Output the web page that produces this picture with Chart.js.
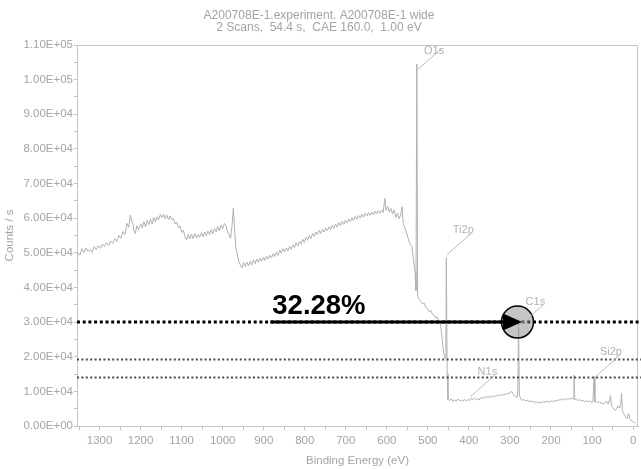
<!DOCTYPE html>
<html>
<head>
<meta charset="utf-8">
<script src="https://cdn.jsdelivr.net/npm/chart.js@4.4.1/dist/chart.umd.min.js"></script>
<style>
  html, body { margin: 0; padding: 0; background: #fff; }
  canvas { display: block; }
</style>
</head>
<body>
<canvas id="c" width="641" height="469"></canvas>
<script>
// Survey spectrum: binding energy (eV, high to low) and count rate (counts / s)
const energy = [
  1354,1348,1343,1338,1333,1328,1323,1318,1313,1308,1303,1298,1293,1288,1283,1278,1273,1268,1263,1258,
  1253,1248,1243,1238,1233,1229,1225,1222,1219,1216,1213,1209,1205,1200,1196,1192,1188,1184,1180,1176,
  1172,1168,1164,1160,1156,1152,1148,1144,1140,1136,1132,1128,1124,1120,1116,1112,1108,1104,1100,1096,
  1092,1088,1084,1080,1076,1072,1068,1064,1060,1056,1052,1048,1044,1040,1036,1032,1028,1024,1020,1016,
  1012,1008,1004,1000,996,992,988,984,981,977,974,971,968,965,961,957,953,949,945,941,
  937,933,929,925,921,917,913,909,905,901,897,893,889,885,881,877,873,869,865,861,
  857,853,849,845,841,837,833,829,825,821,817,813,809,805,801,797,793,789,785,781,
  777,773,769,765,761,757,753,749,745,741,737,733,729,725,721,717,713,709,705,701,
  697,693,689,685,681,677,673,669,665,661,657,653,649,645,641,637,633,629,625,621,
  617,613,609,605,602,598,594,590,586,582,578,574,570,566,563,560,556,552,547,543,
  539,535,531,529,527,525,521,517,513,509,505,501,497,493,489,485,481,477,473,470,
  467,464,461,458,456,455,453,451,447,443,439,435,431,427,423,419,415,411,407,403,
  399,395,391,387,383,379,375,371,367,363,359,355,351,347,343,339,335,331,327,323,
  319,315,311,307,303,299,295,291,287,283,281,279,277,274,270,266,262,258,254,250,
  246,242,238,234,230,226,222,218,214,210,206,202,198,194,190,186,182,178,174,170,
  166,162,158,154,150,146,144,142,138,134,130,126,122,118,114,110,106,102,98,95,
  93,89,85,81,77,73,69,65,61,57,55,53,50,47,44,40,37,33,30,28,
  26,23,20,17,14,11,8,5,2,0,-3,-6
];
const counts = [
  50200,49300,51200,50100,51400,50400,51000,50200,51800,50900,52100,51300,52500,51800,52900,52100,53400,52700,54100,53300,
  55000,54200,56100,55300,58500,57400,60900,59200,58500,56400,55600,57800,56600,58400,57200,59000,57500,59400,58100,59800,
  58300,60200,58900,60400,59500,61000,60200,61200,59800,60900,59500,60700,59600,59900,58300,58900,57200,57800,55900,56500,
  54700,53700,55300,54000,55400,54100,55600,54300,55200,54500,55800,54600,56000,54900,56300,55200,56700,55500,57000,56000,
  57600,56300,58000,56900,58500,57800,56000,55200,54200,58000,62900,57000,51500,49900,47500,46500,45600,47200,46000,47300,
  46200,47600,46500,48000,46900,48200,47300,48500,47500,48700,47800,49000,48200,49300,48500,49800,48900,50200,49300,50800,
  49900,51200,50300,51400,50600,51900,51000,52300,51500,52900,52000,53300,52500,53900,53000,54500,53600,55000,54100,55600,
  54700,56000,55200,56500,55600,56800,56000,57200,56300,57500,56700,57900,57000,58300,57400,58700,57800,59100,58200,59400,
  58600,59800,59000,60200,59300,60500,59700,60800,60000,61100,60300,61400,60600,61600,60800,61800,61000,62000,61200,62200,
  61400,62400,61600,65700,62200,63400,61800,62800,61200,62400,60200,61500,59800,61000,63300,58500,57200,55800,53700,52500,
  51800,48000,44100,39000,104500,37500,36600,36000,35200,35500,34200,33900,33000,33400,32300,32100,31200,31400,30500,30000,
  27000,23500,20800,19500,25000,48600,15000,7600,7400,7900,7000,7600,7200,7800,7300,7500,7100,7700,7200,7600,
  7400,8000,7600,8100,7700,7900,7500,8200,7900,8400,8000,8600,8200,8700,8300,8800,8500,9000,8600,9100,
  8800,9300,9000,9500,9200,9800,9900,9000,8500,8200,9500,29500,9000,7800,7400,7700,7200,7500,7000,7300,
  6900,7100,6700,7000,6600,6900,6700,7100,6800,7200,6900,7100,7300,7000,7400,7200,7600,7400,7800,7500,
  7900,7600,8000,7700,8100,7800,14700,7600,7800,7300,7600,7200,7400,7000,7300,6900,7200,6800,7000,14200,
  7000,6800,7000,6500,6800,6300,6600,7200,6400,7600,8800,6000,5400,4900,4500,5000,5800,5200,6400,9400,
  4500,3600,3000,2400,2200,3600,2200,1600,1400,1200,1000,900
];

// Peak identifications (leader anchor in eV and counts / s)
const peakNames  = ['O1s', 'Ti2p', 'N1s', 'C1s', 'Si2p'];
const peakEnergy = [526, 454, 397, 280, 93];
const peakCounts = [102800, 49400, 8400, 28600, 14100];

// Horizontal reference levels (counts / s)
const levelCounts = [30000, 19200, 14000];

// Arrow running along the top level into the C1s marker
const arrowFromEnergy = 884;
const arrowToEnergy = 270.6;
const markerEnergy = 281.7;
const markerCounts = 30000;
const percentLabel = '32.28%';

// Axis ticks
const xMinorTicks = [0,50,100,150,200,250,300,350,400,450,500,550,600,650,700,750,800,850,900,950,1000,1050,1100,1150,1200,1250,1300,1350];
const xTickValues = [0,100,200,300,400,500,600,700,800,900,1000,1100,1200,1300];
const xTickLabels = ['0','100','200','300','400','500','600','700','800','900','1000','1100','1200','1300'];
const yMinorTicks = [0,5000,10000,15000,20000,25000,30000,35000,40000,45000,50000,55000,60000,65000,70000,75000,80000,85000,90000,95000,100000,105000,110000];
const yTickValues = [0,10000,20000,30000,40000,50000,60000,70000,80000,90000,100000,110000];
const yTickLabels = ['0.00E+00','1.00E+04','2.00E+04','3.00E+04','4.00E+04','5.00E+04','6.00E+04','7.00E+04','8.00E+04','9.00E+04','1.00E+05','1.10E+05'];

const titleLines = ['A200708E-1.experiment. A200708E-1 wide', '2 Scans,  54.4 s,  CAE 160.0,  1.00 eV'];

const FONT = "'Liberation Sans', Arial, sans-serif";
const TEXT_GREY = '#a4a4a4';
const AXIS_GREY = '#c4c4c4';

Chart.defaults.font.family = FONT;

const spectrum = energy.map((e, i) => ({ x: e, y: counts[i] }));

const levelStyles = [
  { color: '#000000', width: 3, dash: [3, 2.7] },
  { color: '#4a4a4a', width: 2, dash: [2, 2.4] },
  { color: '#4a4a4a', width: 2, dash: [2, 2.4] }
];

const levelDatasets = levelCounts.map((v, i) => ({
  data: [{ x: 1355, y: v }, { x: -20, y: v }],
  borderColor: levelStyles[i].color,
  borderWidth: levelStyles[i].width,
  borderDash: levelStyles[i].dash,
  borderCapStyle: 'butt',
  pointRadius: 0,
  clip: false,
  order: 2
}));

// Box frame along the top and right of the plot
const framePlugin = {
  id: 'frame',
  beforeDatasetsDraw(chart) {
    const { ctx, chartArea: a } = chart;
    ctx.save();
    ctx.strokeStyle = AXIS_GREY;
    ctx.lineWidth = 1;
    ctx.beginPath();
    ctx.moveTo(a.left, a.top + 0.5);
    ctx.lineTo(a.right - 0.5, a.top + 0.5);
    ctx.lineTo(a.right - 0.5, a.bottom);
    ctx.stroke();
    ctx.restore();
  }
};

// Peak labels with diagonal leaders
const peakLabelPlugin = {
  id: 'peakLabels',
  afterDatasetsDraw(chart) {
    const { ctx, chartArea: a } = chart;
    const xs = chart.scales.x, ys = chart.scales.y;
    ctx.save();
    ctx.strokeStyle = '#bcbcbc';
    ctx.fillStyle = '#b2b2b2';
    ctx.lineWidth = 1;
    ctx.font = '11px ' + FONT;
    ctx.textAlign = 'right';
    ctx.textBaseline = 'alphabetic';
    peakNames.forEach((name, i) => {
      const px = xs.getPixelForValue(peakEnergy[i]);
      const py = ys.getPixelForValue(peakCounts[i]);
      const ex = px + 25, ey = py - 22;
      ctx.beginPath();
      ctx.moveTo(px, py);
      ctx.lineTo(ex, ey);
      ctx.stroke();
      let base = ey;
      if (base - 8 < a.top) base = a.top + 9;
      ctx.fillText(name, ex + 2, base);
    });
    ctx.restore();
  }
};

// Arrow with its percentage caption
const arrowPlugin = {
  id: 'arrow',
  afterDatasetsDraw(chart) {
    const { ctx } = chart;
    const xs = chart.scales.x, ys = chart.scales.y;
    const y = ys.getPixelForValue(markerCounts);
    const x0 = xs.getPixelForValue(arrowFromEnergy);
    const x1 = xs.getPixelForValue(arrowToEnergy);
    const headLen = 19, headHalf = 8.5;
    ctx.save();
    ctx.strokeStyle = '#000';
    ctx.lineWidth = 3;
    ctx.beginPath();
    ctx.moveTo(x0, y);
    ctx.lineTo(x1 - headLen + 1, y);
    ctx.stroke();
    ctx.fillStyle = '#000';
    ctx.beginPath();
    ctx.moveTo(x1, y);
    ctx.lineTo(x1 - headLen, y - headHalf);
    ctx.lineTo(x1 - headLen, y + headHalf);
    ctx.closePath();
    ctx.fill();
    ctx.font = 'bold 27.5px ' + FONT;
    ctx.textAlign = 'left';
    ctx.textBaseline = 'alphabetic';
    ctx.fillText(percentLabel, x0 + 2, y - 8.4);
    ctx.restore();
  }
};

new Chart(document.getElementById('c'), {
  type: 'line',
  data: {
    datasets: [
      {
        data: [{ x: markerEnergy, y: markerCounts }],
        showLine: false,
        pointRadius: 16,
        pointBackgroundColor: 'rgba(140,140,140,0.5)',
        pointBorderColor: '#000',
        pointBorderWidth: 1.5,
        clip: false,
        order: 1
      },
      ...levelDatasets,
      {
        data: spectrum,
        borderColor: '#b0b0b0',
        borderWidth: 1,
        pointRadius: 0,
        tension: 0,
        order: 3
      }
    ]
  },
  options: {
    responsive: false,
    animation: false,
    layout: { autoPadding: false, padding: { left: 0, right: 3, top: 0, bottom: 0 } },
    plugins: {
      legend: { display: false },
      tooltip: { enabled: false },
      title: {
        display: true,
        text: titleLines,
        color: TEXT_GREY,
        font: { size: 12, lineHeight: 1.05, weight: 'normal' },
        padding: { top: 9, bottom: 10.8 }
      }
    },
    scales: {
      x: {
        type: 'linear',
        reverse: true,
        min: -12,
        max: 1355,
        afterFit(scale) {
          scale.height = 43;
          scale.paddingLeft = 0;
          scale.paddingRight = 0;
        },
        afterBuildTicks(scale) { scale.ticks = xMinorTicks.map(v => ({ value: v })); },
        ticks: {
          autoSkip: false,
          maxRotation: 0,
          color: TEXT_GREY,
          font: { size: 11.5 },
          padding: 4,
          callback(value) {
            const i = xTickValues.indexOf(value);
            return i >= 0 ? xTickLabels[i] : '';
          }
        },
        grid: { drawOnChartArea: false, drawTicks: true, tickLength: 4, color: AXIS_GREY },
        border: { display: true, color: AXIS_GREY, width: 1 },
        title: {
          display: true,
          text: 'Binding Energy (eV)',
          color: TEXT_GREY,
          font: { size: 11.5 },
          padding: { top: 0, bottom: 1.5 }
        }
      },
      y: {
        min: 0,
        max: 110000,
        afterFit(scale) {
          scale.width = 77;
          scale.paddingTop = 0;
          scale.paddingBottom = 0;
        },
        afterBuildTicks(scale) { scale.ticks = yMinorTicks.map(v => ({ value: v })); },
        ticks: {
          autoSkip: false,
          color: TEXT_GREY,
          font: { size: 11.5 },
          padding: 1,
          callback(value) {
            const i = yTickValues.indexOf(value);
            return i >= 0 ? yTickLabels[i] : '';
          }
        },
        grid: { drawOnChartArea: false, drawTicks: true, tickLength: 3, color: AXIS_GREY },
        border: { display: true, color: AXIS_GREY, width: 1 },
        title: {
          display: true,
          text: 'Counts / s',
          color: TEXT_GREY,
          font: { size: 11.5 },
          padding: { top: 3, bottom: 0 }
        }
      }
    }
  },
  plugins: [framePlugin, peakLabelPlugin, arrowPlugin]
});
</script>
</body>
</html>
